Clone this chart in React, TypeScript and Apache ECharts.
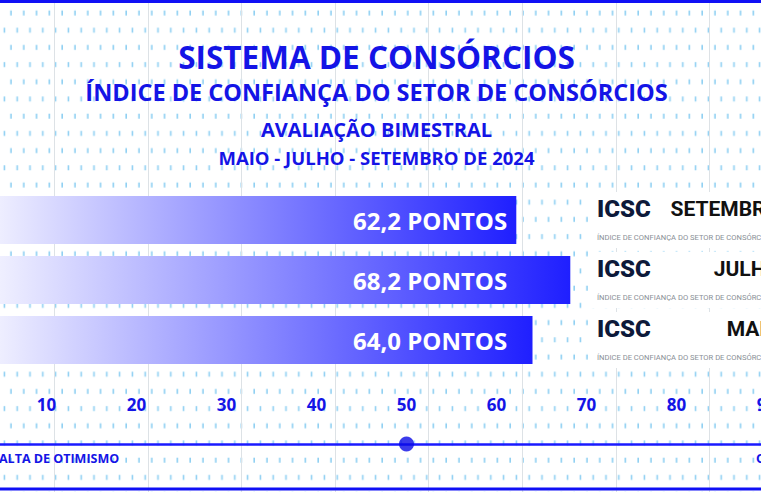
import React, { useEffect, useRef } from 'react';
import * as echarts from 'echarts';

// ---- data ----
const months = ['SETEMBRO', 'JULHO', 'MAIO'];
const points = [62.2, 68.2, 64.0];
const neutralPoint = [50];
const titleLines = [
  'SISTEMA DE CONSÓRCIOS',
  'ÍNDICE DE CONFIANÇA DO SETOR DE CONSÓRCIOS',
  'AVALIAÇÃO BIMESTRAL',
  'MAIO - JULHO - SETEMBRO DE 2024',
];
const scaleLabels = ['ALTA DE OTIMISMO', 'OTIMISMO'];
const logoName = 'ICSC';
const logoSubtitle = 'ÍNDICE DE CONFIANÇA DO SETOR DE CONSÓRCIOS';
const unitLabel = 'PONTOS';

const BLUE = '#1414e6';
const W = 761;
const H = 492;

function patternUrl() {
  const svg =
    '<svg xmlns="http://www.w3.org/2000/svg" width="12.8" height="34.4">' +
    '<rect x="10.2" y="10.5" width="1.6" height="5" fill="#8fd0f2"/>' +
    '<rect x="3.6" y="27.7" width="1.6" height="5" fill="#8fd0f2"/>' +
    '</svg>';
  return 'data:image/svg+xml;charset=utf-8,' + encodeURIComponent(svg);
}

export default function App() {
  const ref = useRef<HTMLDivElement>(null);
  useEffect(() => {
    document.body.style.margin = '0';
    const chart = echarts.init(ref.current!, null, { renderer: 'svg' });

    const greyLines: any[] = [];
    for (let x = 54; x < W; x += 93.6) {
      greyLines.push({
        type: 'line',
        z: 1,
        silent: true,
        shape: { x1: Math.round(x) + 0.5, y1: 0, x2: Math.round(x) + 0.5, y2: H },
        style: { stroke: '#dde2e6', lineWidth: 1 },
      });
    }

    const titleY = [56, 92, 129.5, 157.5];
    const titleSize = [31.5, 23.5, 20, 18.5];

    const option: any = {
      animation: false,
      backgroundColor: '#ffffff',
      grid: [
        { left: -43.5, width: 900, top: 190, height: 180, outerBoundsMode: 'none', containLabel: false },
        { left: -43.5, width: 900, top: 443, height: 1, outerBoundsMode: 'none', containLabel: false },
      ],
      xAxis: [
        {
          type: 'value',
          gridIndex: 0,
          z: 5,
          min: 0,
          max: 100,
          interval: 10,
          axisLine: { show: false },
          axisTick: { show: false },
          splitLine: { show: false },
          axisLabel: {
            margin: 34,
            verticalAlign: 'middle',
            color: BLUE,
            fontFamily: 'Open Sans',
            fontWeight: 'bold',
            fontSize: 17,
          },
        },
        {
          type: 'value',
          gridIndex: 1,
          z: 5,
          min: 0,
          max: 100,
          interval: 10,
          axisLine: { show: true, lineStyle: { color: '#1a1aff', width: 2.5 } },
          axisTick: { show: false },
          splitLine: { show: false },
          axisLabel: { show: false },
        },
      ],
      yAxis: [
        {
          type: 'category',
          gridIndex: 0,
          data: months,
          inverse: true,
          axisLine: { show: false },
          axisTick: { show: false },
          axisLabel: { show: false },
        },
        {
          type: 'category',
          gridIndex: 0,
          z: 5,
          data: months,
          inverse: true,
          position: 'left',
          offset: -633.5,
          axisLine: { show: false },
          axisTick: { show: false },
          axisLabel: {
            interval: 0,
            margin: 0,
            align: 'left',
            backgroundColor: '#ffffff',
            padding: [0, 0, 0, 7],
            formatter: (v: string) => `{a|${logoName}}{b|${v}}\n{c|${logoSubtitle}}`,
            rich: {
              a: {
                fontFamily: 'Roboto',
                fontWeight: 900,
                fontSize: 24,
                color: '#0d1a3a',
                width: 77,
                lineHeight: 34,
              },
              b: {
                fontFamily: 'Roboto',
                fontWeight: 'bold',
                fontSize: 21,
                color: '#111111',
                width: 106,
                align: 'right',
                lineHeight: 34,
              },
              c: {
                fontFamily: 'Roboto',
                fontSize: 7.6,
                color: '#8a8f96',
                lineHeight: 22,
              },
            },
          },
        },
        {
          type: 'value',
          gridIndex: 1,
          min: 0,
          max: 1,
          show: false,
        },
      ],
      series: [
        {
          type: 'bar',
          xAxisIndex: 0,
          yAxisIndex: 0,
          z: 3,
          data: points,
          barWidth: 48,
          itemStyle: {
            color: new echarts.graphic.LinearGradient(0, 0, 1, 0, [
              { offset: 0, color: '#ffffff' },
              { offset: 1, color: '#1f1fff' },
            ]),
          },
          label: {
            show: true,
            position: 'insideLeft',
            distance: 396.5,
            formatter: (p: any) => `${Number(p.value).toFixed(1).replace('.', ',')} ${unitLabel}`,
            color: '#ffffff',
            fontFamily: 'Open Sans',
            fontWeight: 'bold',
            fontSize: 24,
          },
        },
        {
          type: 'scatter',
          xAxisIndex: 1,
          yAxisIndex: 2,
          data: neutralPoint.map((v) => [v, 0]),
          symbolSize: 15,
          itemStyle: { color: '#0a0ae6' },
          z: 6,
        },
      ],
      graphic: [
        {
          type: 'rect',
          z: 0,
          silent: true,
          shape: { x: 0, y: 0, width: W, height: H },
          style: {
            fill: { image: patternUrl(), repeat: 'repeat', imageWidth: 12.8, imageHeight: 34.4 },
          },
        },
        ...greyLines,
        {
          type: 'rect',
          z: 10,
          shape: { x: 0, y: 0, width: W, height: 3 },
          style: { fill: '#1010f5' },
        },
        {
          type: 'rect',
          z: 10,
          shape: { x: 0, y: 487.5, width: W, height: 3 },
          style: { fill: '#1010f5' },
        },
        ...titleLines.map((t, i) => ({
          type: 'text',
          z: 10,
          x: 376.5,
          y: titleY[i],
          style: {
            text: t,
            fill: BLUE,
            fontFamily: 'Open Sans',
            fontWeight: 'bold',
            fontSize: titleSize[i],
            align: 'center',
            verticalAlign: 'middle',
          },
        })),
        {
          type: 'text',
          z: 10,
          x: -1,
          y: 458,
          style: {
            text: scaleLabels[0],
            fill: BLUE,
            fontFamily: 'Open Sans',
            fontWeight: 'bold',
            fontSize: 12.5,
            align: 'left',
            verticalAlign: 'middle',
          },
        },
        {
          type: 'text',
          z: 10,
          x: 756,
          y: 458,
          style: {
            text: scaleLabels[1],
            fill: BLUE,
            fontFamily: 'Open Sans',
            fontWeight: 'bold',
            fontSize: 12.5,
            align: 'left',
            verticalAlign: 'middle',
          },
        },
      ],
    };
    chart.setOption(option);
    return () => chart.dispose();
  }, []);
  return (
    <div
      ref={ref}
      style={{ position: 'absolute', left: 0, top: 0, width: W, height: H }}
    />
  );
}
